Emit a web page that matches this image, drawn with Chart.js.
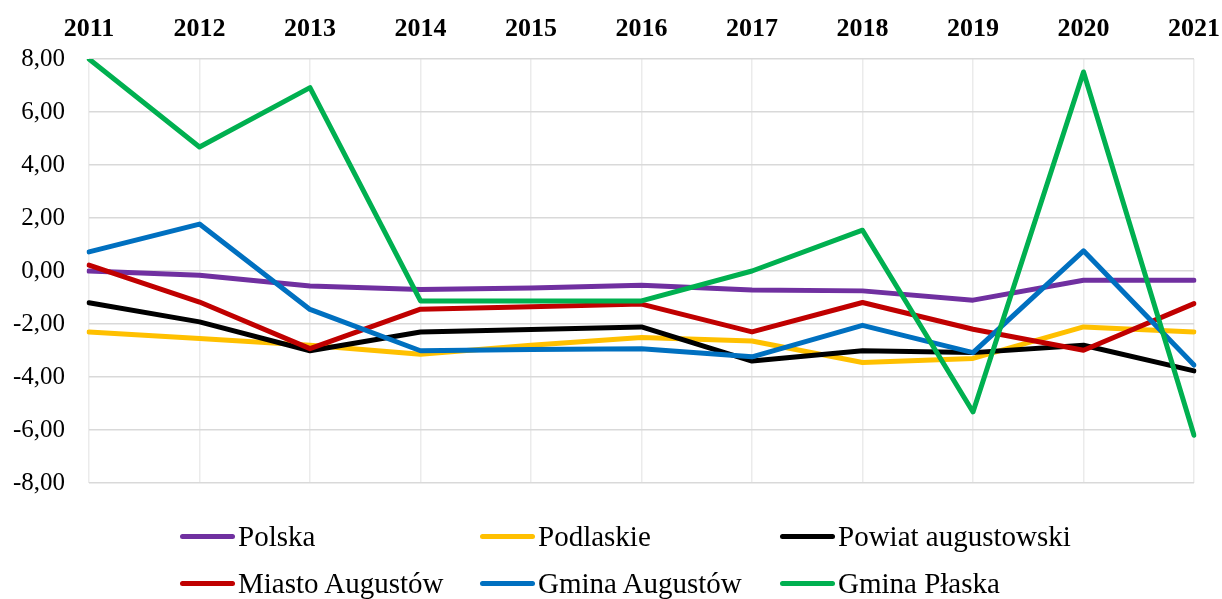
<!DOCTYPE html>
<html>
<head>
<meta charset="utf-8">
<script src="https://cdn.jsdelivr.net/npm/chart.js@4.4.1/dist/chart.umd.min.js"></script>
<style>
  html, body { margin: 0; padding: 0; background: #fff; }
  #wrap { position: relative; width: 1222px; height: 599px; overflow: hidden; }
  #legend { position: absolute; left: 0; top: 0; width: 1222px; height: 599px; pointer-events: none; }
  .item { position: absolute; height: 36px; display: flex; align-items: center; font-family: "Liberation Serif", "Times New Roman", serif; font-size: 29px; color: #000; white-space: nowrap; }
  .sym { width: 55px; height: 5px; border-radius: 3px; margin-right: 3px; }
</style>
</head>
<body>
<div id="wrap">
  <canvas id="c" width="1222" height="599"></canvas>
  <div id="legend"></div>
</div>
<script>
const years = ['2011','2012','2013','2014','2015','2016','2017','2018','2019','2020','2021'];
const polska        = [0.00, -0.16, -0.57, -0.70, -0.64, -0.54, -0.72, -0.75, -1.10, -0.35, -0.35];
const podlaskie     = [-2.30, -2.55, -2.80, -3.14, -2.80, -2.51, -2.64, -3.45, -3.30, -2.11, -2.30];
const powiat        = [-1.20, -1.92, -3.01, -2.30, -2.21, -2.11, -3.40, -3.01, -3.08, -2.80, -3.77];
const miasto        = [0.22, -1.17, -2.93, -1.44, -1.35, -1.25, -2.30, -1.19, -2.20, -2.99, -1.23];
const gminaAugustow = [0.72, 1.77, -1.45, -3.01, -2.96, -2.93, -3.24, -2.05, -3.08, 0.76, -3.55];
const gminaPlaska   = [8.00, 4.68, 6.92, -1.13, -1.13, -1.13, 0.00, 1.54, -5.32, 7.51, -6.20];
const seriesNames = ['Polska','Podlaskie','Powiat augustowski','Miasto Augustów','Gmina Augustów','Gmina Płaska'];
const seriesData = [polska, podlaskie, powiat, miasto, gminaAugustow, gminaPlaska];
const colors = ['#7030A0','#FFC000','#000000','#C00000','#0070C0','#00B050'];
const yTicks = { min: -8, max: 8, step: 2 };

const FONT = '"Liberation Serif", "Times New Roman", serif';

const datasets = seriesNames.map((name, i) => ({
  label: name,
  data: seriesData[i],
  borderColor: colors[i],
  backgroundColor: colors[i],
  borderWidth: 5,
  pointRadius: 0,
  pointHoverRadius: 0,
  tension: 0,
  fill: false,
  borderJoinStyle: 'round',
  borderCapStyle: 'round',
  order: seriesNames.length - 1 - i
}));

new Chart(document.getElementById('c'), {
  type: 'line',
  data: { labels: years, datasets },
  options: {
    responsive: false,
    animation: false,
    events: [],
    layout: { padding: { left: 0, right: 28, top: 0, bottom: 116 } },
    plugins: { legend: { display: false }, tooltip: { enabled: false } },
    scales: {
      x: {
        position: 'top',
        offset: false,
        grid: { color: '#ebebeb', lineWidth: 1.5, drawTicks: false },
        border: { display: false },
        ticks: { color: '#000', font: { family: FONT, size: 26, weight: 'bold' }, padding: 14, maxRotation: 0, autoSkip: false },
        afterFit: s => { s.height = 59; s.paddingLeft = 0; s.paddingRight = 0; }
      },
      y: {
        min: yTicks.min, max: yTicks.max,
        grid: { color: '#d9d9d9', lineWidth: 1.5, drawTicks: false },
        border: { display: false },
        ticks: {
          stepSize: yTicks.step,
          color: '#000',
          font: { family: FONT, size: 25 },
          padding: 24,
          callback: v => v.toFixed(2).replace('.', ',')
        },
        afterFit: s => { s.width = 89; s.paddingTop = 0; s.paddingBottom = 0; }
      }
    }
  }
});

// HTML legend built from the series arrays
const legend = document.getElementById('legend');
const colX = [180, 480, 780];
const rowY = [536, 583];
seriesNames.forEach((name, i) => {
  const el = document.createElement('div');
  el.className = 'item';
  el.style.left = colX[i % 3] + 'px';
  el.style.top = (rowY[Math.floor(i / 3)] - 18) + 'px';
  const sym = document.createElement('span');
  sym.className = 'sym';
  sym.style.background = colors[i];
  const txt = document.createElement('span');
  txt.textContent = name;
  el.appendChild(sym);
  el.appendChild(txt);
  legend.appendChild(el);
});
</script>
</body>
</html>
